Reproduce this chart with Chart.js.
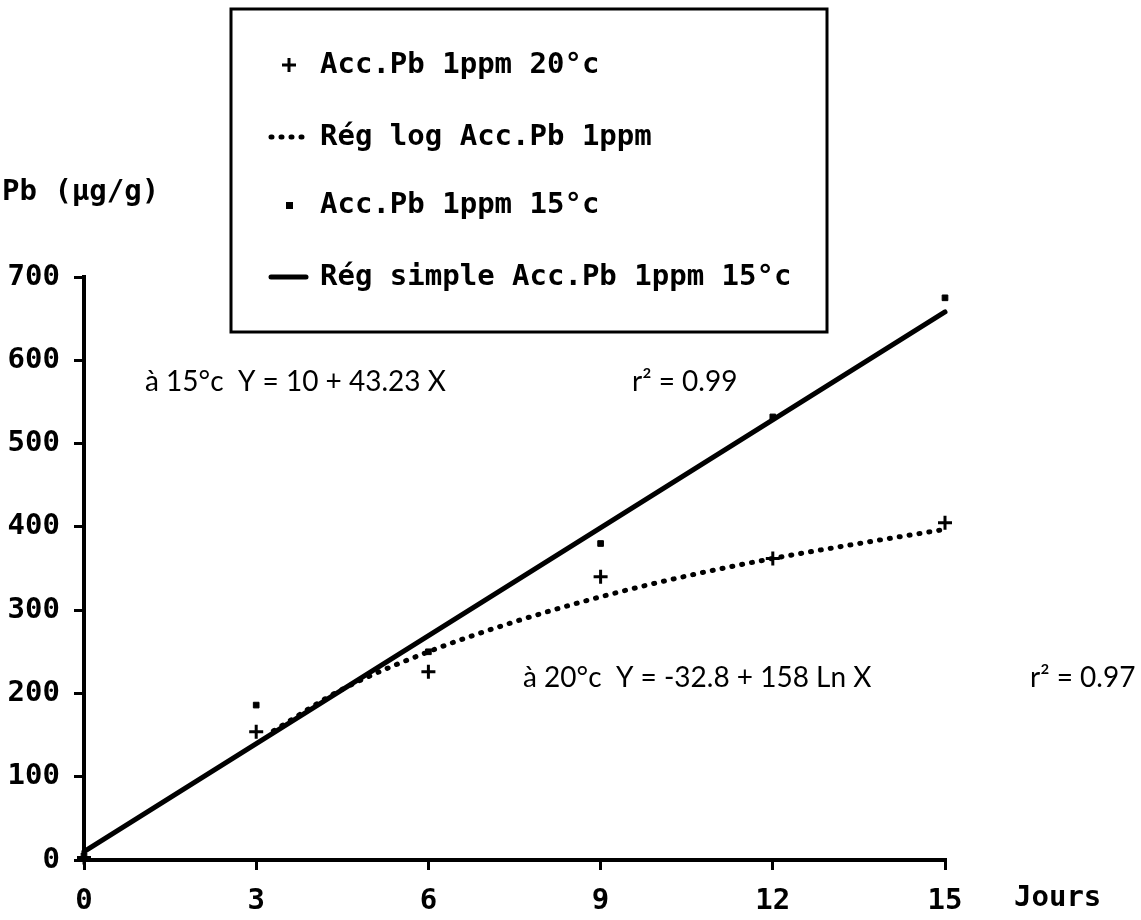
<!DOCTYPE html>
<html><head><meta charset="utf-8">
<script src="https://cdn.jsdelivr.net/npm/chart.js@4.4.1/dist/chart.umd.min.js"></script>
<style>html,body{margin:0;padding:0;background:#fff;}canvas{display:block;}</style>
</head><body>
<canvas id="c" width="1141" height="920"></canvas>
<script>
// ---- data ----
const days = [0, 3, 6, 9, 12, 15];
const acc20 = [3, 154, 226, 340, 362, 405];
const acc15 = [5, 186, 250, 380, 532, 675];
const regSimpleX = [0, 15];
const regSimpleY = [10, 658];
const regLogX = [3.3, 4.5, 6, 7.5, 9, 10.5, 12, 13.5, 15];
const regLogY = [155, 205, 250, 286, 316, 341, 362, 380, 397];
const xTicks = [0, 3, 6, 9, 12, 15];
const yTicks = [0, 100, 200, 300, 400, 500, 600, 700];
const seriesLabels = ['Acc.Pb 1ppm 20°c', 'Rég log Acc.Pb 1ppm', 'Acc.Pb 1ppm 15°c', 'Rég simple Acc.Pb 1ppm 15°c'];
const yTitle = 'Pb (µg/g)';
const xTitle = 'Jours';
const notes = [
  {text: 'à 15°c  Y = 10 + 43.23 X', x: 145, y: 382},
  {text: 'r² = 0.99', x: 632, y: 382},
  {text: 'à 20°c  Y = -32.8 + 158 Ln X', x: 523, y: 678},
  {text: 'r² = 0.97', x: 1030, y: 678}
];

const MONO = 'bold 29px "DejaVu Sans Mono"';
const pts = (xs, ys) => xs.map((x, i) => ({x: x, y: ys[i]}));

const overlay = {
  id: 'overlay',
  afterDraw(chart) {
    const ctx = chart.ctx;
    ctx.save();
    ctx.fillStyle = '#000';
    ctx.strokeStyle = '#000';
    ctx.font = MONO;
    ctx.textBaseline = 'middle';
    ctx.textAlign = 'left';
    ctx.fillText(yTitle, 2, 192);
    ctx.fillText(xTitle, 1014, 898);
    ctx.lineWidth = 3;
    ctx.strokeRect(231, 9, 596, 323);
    const rows = [65, 137, 205, 277];
    const ds = chart.data.datasets;
    rows.forEach((ry, i) => {
      const d = ds[i];
      ctx.font = MONO;
      ctx.fillText(d.label, 320, ry);
      if (i === 0) {
        ctx.lineWidth = 3;
        ctx.beginPath();
        ctx.moveTo(282, ry); ctx.lineTo(296, ry);
        ctx.moveTo(289, ry - 7); ctx.lineTo(289, ry + 7);
        ctx.stroke();
      } else if (i === 2) {
        ctx.fillRect(286, ry - 3, 7, 7);
      } else {
        ctx.lineWidth = d.borderWidth;
        ctx.lineCap = d.borderCapStyle || 'butt';
        ctx.setLineDash(d.borderDash || []);
        ctx.beginPath();
        ctx.moveTo(271, ry); ctx.lineTo(306, ry);
        ctx.stroke();
        ctx.setLineDash([]);
        ctx.lineCap = 'butt';
      }
    });
    ctx.font = '28px Lato';
    notes.forEach(n => ctx.fillText(n.text, n.x, n.y));
    ctx.restore();
  }
};

new Chart(document.getElementById('c'), {
  type: 'scatter',
  data: {
    datasets: [
      {label: seriesLabels[0], data: pts(days, acc20), pointStyle: 'cross', pointRadius: 7,
       borderColor: '#000', backgroundColor: '#000', pointBorderWidth: 3, showLine: false, order: 1, clip: false},
      {label: seriesLabels[1], data: pts(regLogX, regLogY), showLine: true, pointRadius: 0,
       borderColor: '#000', borderWidth: 5, borderDash: [1, 9], borderCapStyle: 'round',
       cubicInterpolationMode: 'monotone', order: 3, clip: false},
      {label: seriesLabels[2], data: pts(days, acc15), pointStyle: 'rect', pointRadius: 4,
       borderColor: '#000', backgroundColor: '#000', pointBorderWidth: 1, showLine: false, order: 0, clip: false},
      {label: seriesLabels[3], data: pts(regSimpleX, regSimpleY), showLine: true, pointRadius: 0,
       borderColor: '#000', borderWidth: 5, borderCapStyle: 'round', order: 2, clip: false}
    ]
  },
  options: {
    responsive: false,
    animation: false,
    devicePixelRatio: 1,
    layout: {padding: {top: 277, right: 196, bottom: 0, left: 0}},
    plugins: {legend: {display: false}, tooltip: {enabled: false}},
    scales: {
      x: {
        type: 'linear', min: 0, max: 15,
        afterBuildTicks: s => { s.ticks = xTicks.map(v => ({value: v})); },
        afterFit: s => { s.height = 60; },
        ticks: {color: '#000', font: {family: 'DejaVu Sans Mono', size: 29, weight: 'bold'}, padding: 14, maxRotation: 0},
        grid: {display: true, drawOnChartArea: false, drawTicks: true, tickLength: 10, color: '#000', lineWidth: 3},
        border: {display: true, color: '#000', width: 4}
      },
      y: {
        type: 'linear', min: 0, max: 700,
        afterBuildTicks: s => { s.ticks = yTicks.map(v => ({value: v})); },
        afterFit: s => { s.width = 84; },
        ticks: {color: '#000', font: {family: 'DejaVu Sans Mono', size: 29, weight: 'bold'}, padding: 14},
        grid: {display: true, drawOnChartArea: false, drawTicks: true, tickLength: 10, color: '#000', lineWidth: 3},
        border: {display: true, color: '#000', width: 4}
      }
    }
  },
  plugins: [overlay]
});
</script>
</body></html>
